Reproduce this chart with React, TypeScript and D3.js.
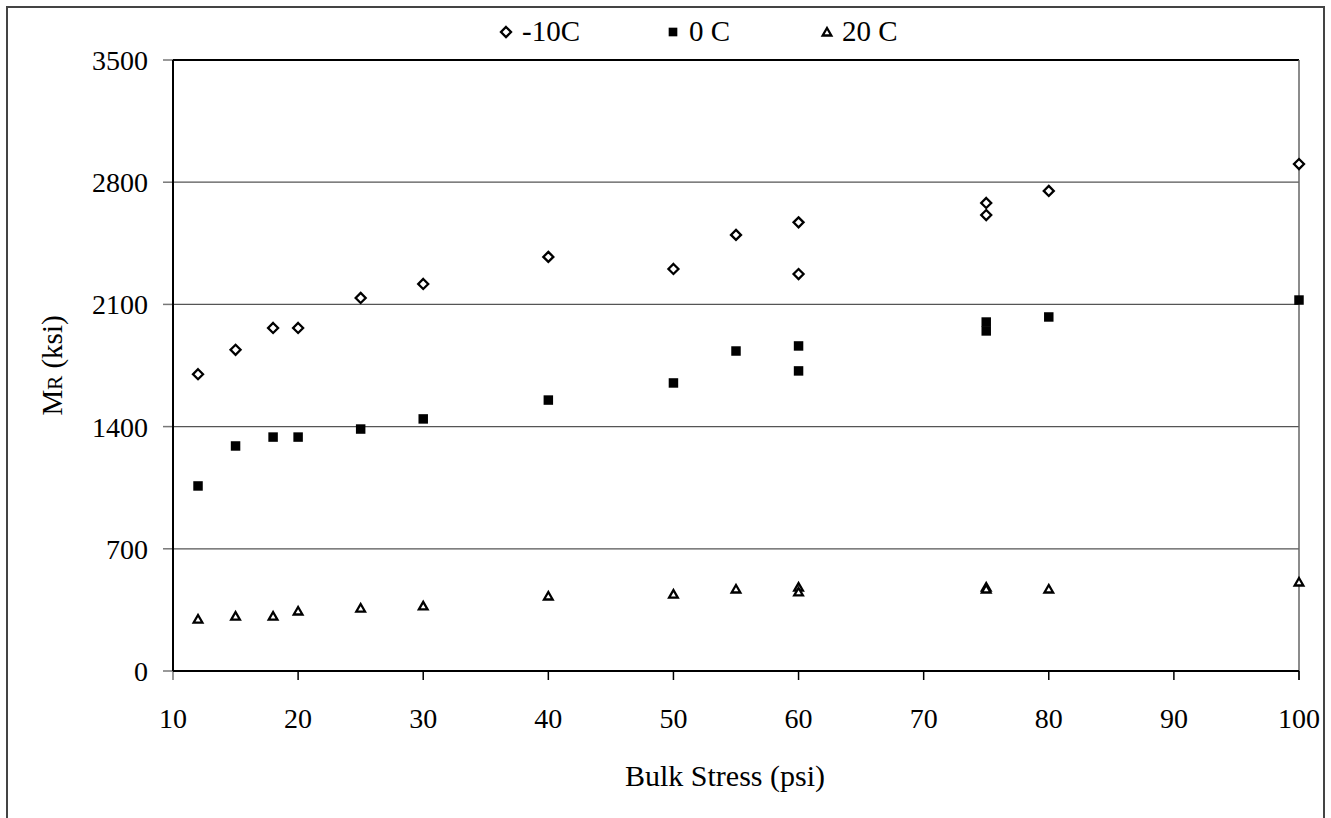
import { useEffect, useRef } from "react";
import * as d3 from "d3";

const W = 1331, H = 818;

type Pt = { x: number; y: number };

// -10C
const coldX = [12, 15, 18, 20, 25, 30, 40, 50, 55, 60, 60, 75, 75, 80, 100];
const coldY = [1700, 1840, 1965, 1965, 2137, 2217, 2372, 2303, 2498, 2570, 2274, 2681, 2612, 2750, 2904];
// 0 C
const midX = [12, 15, 18, 20, 25, 30, 40, 50, 55, 60, 60, 75, 75, 80, 100];
const midY = [1060, 1289, 1340, 1340, 1386, 1444, 1552, 1650, 1833, 1862, 1719, 1999, 1948, 2028, 2125];
// 20 C
const warmX = [12, 15, 18, 20, 25, 30, 40, 50, 55, 60, 60, 75, 75, 80, 100];
const warmY = [292, 309, 309, 338, 355, 367, 424, 435, 464, 475, 447, 475, 464, 464, 504];

const xTicks = [10, 20, 30, 40, 50, 60, 70, 80, 90, 100];
const yTicks = [0, 700, 1400, 2100, 2800, 3500];

const zip = (xs: number[], ys: number[]): Pt[] => xs.map((x, i) => ({ x, y: ys[i] }));

const plot = { left: 173, right: 1299, top: 60, bottom: 671 };
const font = "Liberation Serif";

export default function App() {
  const ref = useRef<SVGSVGElement>(null);

  useEffect(() => {
    const svg = d3.select(ref.current);
    svg.selectAll("*").remove();

    // outer frame
    svg.append("rect")
      .attr("x", 7).attr("y", 7)
      .attr("width", 1317).attr("height", 830)
      .attr("fill", "white").attr("stroke", "#444").attr("stroke-width", 2);

    const x = d3.scaleLinear().domain([10, 100]).range([plot.left, plot.right]);
    const y = d3.scaleLinear().domain([0, 3500]).range([plot.bottom, plot.top]);

    const g = svg.append("g");

    // gridlines
    yTicks.filter(t => t > 0).forEach(t => {
      g.append("line")
        .attr("x1", x(10)).attr("x2", x(100))
        .attr("y1", y(t)).attr("y2", y(t))
        .attr("stroke", t === 3500 ? "#000" : "#555").attr("stroke-width", t === 3500 ? 2 : 1.3);
    });
    // right border of plot area
    g.append("line")
      .attr("x1", x(100)).attr("x2", x(100))
      .attr("y1", y(3500)).attr("y2", y(0) + 9)
      .attr("stroke", "#666").attr("stroke-width", 1.5);

    // y ticks
    yTicks.forEach(t => {
      g.append("line")
        .attr("x1", x(10) - 10).attr("x2", x(10))
        .attr("y1", y(t)).attr("y2", y(t))
        .attr("stroke", "#777").attr("stroke-width", 1.5);
      g.append("text")
        .attr("x", 148).attr("y", y(t) + 10)
        .attr("text-anchor", "end")
        .style("font-family", font).style("font-size", "28px")
        .text(t);
    });
    // x ticks
    xTicks.forEach(t => {
      g.append("line")
        .attr("x1", x(t)).attr("x2", x(t))
        .attr("y1", y(0)).attr("y2", y(0) + 9)
        .attr("stroke", t === 10 ? "#777" : "#000").attr("stroke-width", 1.5);
      g.append("text")
        .attr("x", x(t)).attr("y", y(0) + 57)
        .attr("text-anchor", "middle")
        .style("font-family", font).style("font-size", "28px")
        .text(t);
    });

    // axes
    g.append("line")
      .attr("x1", x(10)).attr("x2", x(10))
      .attr("y1", y(3500)).attr("y2", y(0))
      .attr("stroke", "#000").attr("stroke-width", 2);
    g.append("line")
      .attr("x1", x(10)).attr("x2", x(100))
      .attr("y1", y(0)).attr("y2", y(0))
      .attr("stroke", "#000").attr("stroke-width", 2);

    const diamond = d3.symbol().type(d3.symbolDiamond2).size(64);
    const square = d3.symbol().type(d3.symbolSquare).size(90);
    const triangle = d3.symbol().type(d3.symbolTriangle2).size(54);

    g.selectAll(".cold").data(zip(coldX, coldY)).enter().append("path")
      .attr("transform", d => `translate(${x(d.x)},${y(d.y)})`)
      .attr("d", diamond()!)
      .attr("fill", "white").attr("stroke", "#000").attr("stroke-width", 2.3);
    g.selectAll(".mid").data(zip(midX, midY)).enter().append("path")
      .attr("transform", d => `translate(${x(d.x)},${y(d.y)})`)
      .attr("d", square()!)
      .attr("fill", "#000");
    g.selectAll(".warm").data(zip(warmX, warmY)).enter().append("path")
      .attr("transform", d => `translate(${x(d.x)},${y(d.y)})`)
      .attr("d", triangle()!)
      .attr("fill", "white").attr("stroke", "#000").attr("stroke-width", 2.3);

    // legend
    const leg = svg.append("g").style("font-family", font).style("font-size", "29px");
    leg.append("path").attr("transform", "translate(506,32)").attr("d", diamond()!)
      .attr("fill", "white").attr("stroke", "#000").attr("stroke-width", 2.3);
    leg.append("text").attr("x", 522).attr("y", 41).text("-10C");
    leg.append("path").attr("transform", "translate(673,32)").attr("d", d3.symbol().type(d3.symbolSquare).size(75)()!)
      .attr("fill", "#000");
    leg.append("text").attr("x", 689).attr("y", 41).text("0 C");
    leg.append("path").attr("transform", "translate(827,33)").attr("d", triangle()!)
      .attr("fill", "white").attr("stroke", "#000").attr("stroke-width", 2.3);
    leg.append("text").attr("x", 842).attr("y", 41).text("20 C");

    // axis titles
    svg.append("text")
      .attr("x", 725).attr("y", 786)
      .attr("text-anchor", "middle")
      .style("font-family", font).style("font-size", "30px")
      .text("Bulk Stress (psi)");
    const yt = svg.append("text")
      .attr("transform", `translate(62,${y(1750)}) rotate(-90)`)
      .attr("text-anchor", "middle")
      .style("font-family", font).style("font-size", "29px");
    yt.append("tspan").text("M");
    yt.append("tspan").style("font-size", "21px").text("R");
    yt.append("tspan").text(" (ksi)");
  }, []);

  return <svg ref={ref} width={W} height={H} style={{ position: "absolute", left: 0, top: 0 }} />;
}
